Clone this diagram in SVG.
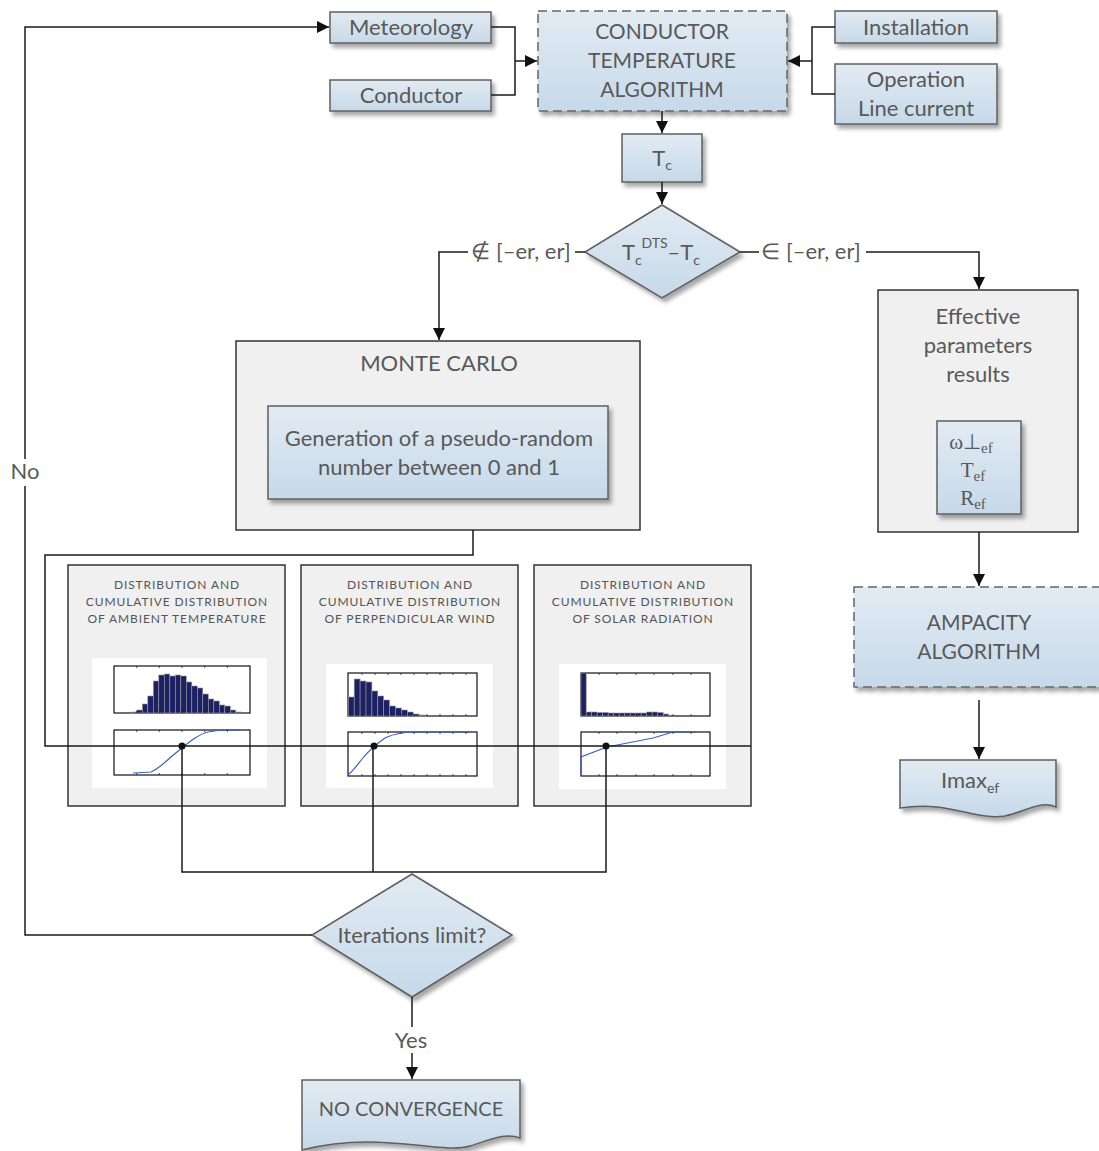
<svg xmlns="http://www.w3.org/2000/svg" width="1099" height="1151" viewBox="0 0 1099 1151">
<defs>
<linearGradient id="blue" x1="0" y1="0" x2="0" y2="1">
<stop offset="0" stop-color="#e2ebf3"/>
<stop offset="1" stop-color="#c6d9e9"/>
</linearGradient>
<filter id="sh" x="-10%" y="-10%" width="130%" height="140%">
<feDropShadow dx="3" dy="4" stdDeviation="2" flood-color="#000" flood-opacity="0.35"/>
</filter>
<marker id="arr" markerWidth="13" markerHeight="13" refX="12" refY="6.5" orient="auto" markerUnits="userSpaceOnUse">
<path d="M0,0.5 L12,6.5 L0,12.5 Z" fill="#111"/>
</marker>
<style>
.box{fill:url(#blue);stroke:#5f5f5f;stroke-width:1.5;filter:url(#sh)}
.dash{fill:url(#blue);stroke:#666;stroke-width:1.5;stroke-dasharray:9,5;filter:url(#sh)}
.panel{fill:#f0f0f0;stroke:#333;stroke-width:1.5}
.t{font-family:Lato,"Open Sans",sans-serif;font-size:22px;fill:#595959;text-anchor:middle}
.u{font-family:Lato,"Open Sans",sans-serif;font-size:21px;fill:#595959;text-anchor:middle}
.s{font-family:Lato,"Open Sans",sans-serif;font-size:12px;fill:#555;text-anchor:middle;letter-spacing:0.9px}
.serif{font-family:"Liberation Serif",serif;font-size:21px;fill:#595959;text-anchor:middle}
.con{fill:none;stroke:#1a1a1a;stroke-width:1.5}
.ax{fill:#fff;stroke:#111;stroke-width:1.2}
.bar{fill:#1b2163;stroke:#9a9a9a;stroke-width:0.6}
.cdf{fill:none;stroke:#3a62c4;stroke-width:1.2}
.tk{stroke:#111;stroke-width:0.7}
</style>
</defs>

<g id="meteorology">
<rect class="box" x="330" y="12" width="161" height="31"/>
<text class="t" x="411" y="35">Meteorology</text>
</g>
<g id="conductor">
<rect class="box" x="330" y="80" width="161" height="31"/>
<text class="t" x="411" y="103">Conductor</text>
</g>
<g id="conductor-temperature-algorithm">
<rect class="dash" x="538" y="11" width="249" height="100"/>
<text class="u" x="662" y="39">CONDUCTOR</text>
<text class="u" x="662" y="68">TEMPERATURE</text>
<text class="u" x="662" y="97">ALGORITHM</text>
</g>
<g id="installation">
<rect class="box" x="835" y="11" width="162" height="32"/>
<text class="t" x="916" y="35">Installation</text>
</g>
<g id="operation">
<rect class="box" x="835" y="64" width="162" height="60"/>
<text class="t" x="916" y="87">Operation</text>
<text class="t" x="916" y="116">Line current</text>
</g>
<g id="tc">
<rect class="box" x="622" y="134" width="80" height="48"/>
<text class="t" x="662" y="166">T<tspan font-size="14" dy="4">c</tspan></text>
</g>
<g id="decision-tc">
<path class="box" d="M662,205 L740,252 L662,298 L585,252 Z"/>
<text class="t" x="661" y="260">T<tspan font-size="14" dy="5">c</tspan><tspan font-size="14" dy="-17">DTS</tspan><tspan dy="12">–T</tspan><tspan font-size="14" dy="5">c</tspan></text>
</g>

<g id="monte-carlo">
<rect class="panel" x="236" y="341" width="404" height="189"/>
<text class="t" x="439" y="371">MONTE CARLO</text>
<rect class="box" x="268" y="406" width="340" height="93"/>
<text class="t" x="439" y="446">Generation of a pseudo-random</text>
<text class="t" x="439" y="475">number between 0 and 1</text>
</g>

<g id="effective-parameters">
<rect class="panel" x="878" y="290" width="200" height="242"/>
<text class="t" x="978" y="324">Effective</text>
<text class="t" x="978" y="353">parameters</text>
<text class="t" x="978" y="382">results</text>
<rect class="box" x="937" y="421" width="84" height="93"/>
<text class="serif" x="971" y="449">ω⊥<tspan font-size="15" dy="4">ef</tspan></text>
<text class="serif" x="973" y="477">T<tspan font-size="15" dy="4">ef</tspan></text>
<text class="serif" x="973" y="505">R<tspan font-size="15" dy="4">ef</tspan></text>
</g>

<g id="ampacity-algorithm">
<rect class="dash" x="854" y="587" width="260" height="100"/>
<text class="u" x="979" y="630">AMPACITY</text>
<text class="u" x="979" y="659">ALGORITHM</text>
</g>

<g id="imax">
<path class="box" d="M900,760 H1056 V807 C1040,800 1025,812 1005,816 C975,821 950,800 900,808 Z"/>
<text class="t" x="970" y="788">Imax<tspan font-size="14" dy="5">ef</tspan></text>
</g>

<g id="dist-ambient-temperature">
<rect class="panel" x="68" y="565" width="217" height="241"/>
<text class="s" x="177" y="589">DISTRIBUTION AND</text>
<text class="s" x="177" y="606">CUMULATIVE DISTRIBUTION</text>
<text class="s" x="177" y="623">OF AMBIENT TEMPERATURE</text>
<rect x="92" y="658" width="175" height="130" fill="#fff"/>
<rect class="ax" x="114" y="666" width="136" height="47"/>
<g class="bar">
<rect x="131.3" y="712" width="5.5" height="1"/>
<rect x="136.8" y="710" width="5.5" height="3"/>
<rect x="142.3" y="704" width="5.5" height="9"/>
<rect x="147.8" y="696" width="5.5" height="17"/>
<rect x="153.3" y="681" width="5.5" height="32"/>
<rect x="158.8" y="675" width="5.5" height="38"/>
<rect x="164.3" y="674" width="5.5" height="39"/>
<rect x="169.8" y="676" width="5.5" height="37"/>
<rect x="175.3" y="675" width="5.5" height="38"/>
<rect x="180.8" y="676" width="5.5" height="37"/>
<rect x="186.3" y="682" width="5.5" height="31"/>
<rect x="191.8" y="686" width="5.5" height="27"/>
<rect x="197.3" y="688" width="5.5" height="25"/>
<rect x="202.8" y="694" width="5.5" height="19"/>
<rect x="208.3" y="699" width="5.5" height="14"/>
<rect x="213.8" y="701" width="5.5" height="12"/>
<rect x="219.3" y="705" width="5.5" height="8"/>
<rect x="224.8" y="706" width="5.5" height="7"/>
<rect x="230.3" y="710" width="5.5" height="3"/>
<rect x="235.8" y="712" width="5.5" height="1"/>
</g>
<path class="tk" d="M136.7,666v2M159.3,666v2M182,666v2M204.7,666v2M227.3,666v2M136.7,713v-2M159.3,713v-2M182,713v-2M204.7,713v-2M227.3,713v-2"/>
<rect class="ax" x="114" y="730" width="136" height="45"/>
<path class="cdf" d="M133,773 L151,772 C156,770 160,767 171,757 L183,747 C188,743 192,740 195,738 C200,735 204,733 208,732 C215,731 220,730 228,730 L241,730"/>
<path class="tk" d="M136.7,730v2M159.3,730v2M182,730v2M204.7,730v2M227.3,730v2M136.7,775v-2M159.3,775v-2M182,775v-2M204.7,775v-2M227.3,775v-2"/>
</g>

<g id="dist-perpendicular-wind">
<rect class="panel" x="301" y="565" width="217" height="241"/>
<text class="s" x="410" y="589">DISTRIBUTION AND</text>
<text class="s" x="410" y="606">CUMULATIVE DISTRIBUTION</text>
<text class="s" x="410" y="623">OF PERPENDICULAR WIND</text>
<rect x="326" y="664" width="167" height="124" fill="#fff"/>
<rect class="ax" x="348" y="673" width="129" height="43"/>
<g class="bar">
<rect x="348.3" y="697" width="5.9" height="19"/>
<rect x="354.2" y="679" width="5.9" height="37"/>
<rect x="360.1" y="681" width="5.9" height="35"/>
<rect x="366" y="682" width="5.9" height="34"/>
<rect x="371.9" y="691" width="5.9" height="25"/>
<rect x="377.8" y="696" width="5.9" height="20"/>
<rect x="383.7" y="700" width="5.9" height="16"/>
<rect x="389.6" y="706" width="5.9" height="10"/>
<rect x="395.5" y="708" width="5.9" height="8"/>
<rect x="401.4" y="710" width="5.9" height="6"/>
<rect x="407.3" y="712" width="5.9" height="4"/>
<rect x="413.2" y="714" width="5.9" height="2"/>
<rect x="419.1" y="715" width="5.9" height="1"/>
</g>
<path class="tk" d="M362,673v2M375,673v2M388,673v2M401,673v2M414,673v2M427,673v2M440,673v2M453,673v2M466,673v2M362,716v-2M375,716v-2M388,716v-2M401,716v-2M414,716v-2M427,716v-2M440,716v-2M453,716v-2M466,716v-2"/>
<rect class="ax" x="348" y="732" width="129" height="44"/>
<path class="cdf" d="M348,775 C354,770 358,764 362,759 C367,753 371,749 374,747 C378,743 382,740 385,738 C391,735 396,734 402,733 C410,732 415,732 422,732 L470,732"/>
<path class="tk" d="M362,732v2M375,732v2M388,732v2M401,732v2M414,732v2M427,732v2M440,732v2M453,732v2M466,732v2M362,776v-2M375,776v-2M388,776v-2M401,776v-2M414,776v-2M427,776v-2M440,776v-2M453,776v-2M466,776v-2"/>
</g>

<g id="dist-solar-radiation">
<rect class="panel" x="534" y="565" width="217" height="241"/>
<text class="s" x="643" y="589">DISTRIBUTION AND</text>
<text class="s" x="643" y="606">CUMULATIVE DISTRIBUTION</text>
<text class="s" x="643" y="623">OF SOLAR RADIATION</text>
<rect x="559" y="664" width="167" height="125" fill="#fff"/>
<rect class="ax" x="581" y="673" width="129" height="43"/>
<g class="bar">
<rect x="581" y="673" width="5.2" height="43"/>
<rect x="586.2" y="712" width="5.5" height="4"/>
<rect x="591.7" y="712" width="5.5" height="4"/>
<rect x="597.2" y="712.5" width="5.5" height="3.5"/>
<rect x="602.7" y="712.5" width="5.5" height="3.5"/>
<rect x="608.2" y="713" width="5.5" height="3"/>
<rect x="613.7" y="713" width="5.5" height="3"/>
<rect x="619.2" y="713" width="5.5" height="3"/>
<rect x="624.7" y="713" width="5.5" height="3"/>
<rect x="630.2" y="713" width="5.5" height="3"/>
<rect x="635.7" y="713" width="5.5" height="3"/>
<rect x="641.2" y="713" width="5.5" height="3"/>
<rect x="646.7" y="712" width="5.5" height="4"/>
<rect x="652.2" y="712" width="5.5" height="4"/>
<rect x="657.7" y="712.5" width="5.5" height="3.5"/>
<rect x="663.2" y="714" width="5.5" height="2"/>
</g>
<path class="tk" d="M599,673v2M617,673v2M636,673v2M654,673v2M673,673v2M691,673v2M599,716v-2M617,716v-2M636,716v-2M654,716v-2M673,716v-2M691,716v-2"/>
<rect class="ax" x="581" y="732" width="129" height="44"/>
<path class="cdf" d="M581,776 V757 L607,747 L653,738 L673,732 L696,732"/>
<path class="tk" d="M599,732v2M617,732v2M636,732v2M654,732v2M673,732v2M691,732v2M599,776v-2M617,776v-2M636,776v-2M654,776v-2M673,776v-2M691,776v-2"/>
</g>

<g id="decision-iterations">
<path class="box" d="M412,874 L512,935 L412,997 L312,935 Z"/>
<text class="t" x="412" y="943">Iterations limit?</text>
</g>

<g id="no-convergence">
<path class="box" d="M302,1080 H520 V1138 C505,1132 490,1140 470,1146 C440,1155 380,1130 302,1150 Z"/>
<text class="u" x="411" y="1116" style="font-size:20px">NO CONVERGENCE</text>
</g>

<g id="connectors">
<path class="con" d="M491,27 H515 V95 H491"/>
<path class="con" d="M515,61 H537" marker-end="url(#arr)"/>
<path class="con" d="M835,27 H812 V94 H835"/>
<path class="con" d="M812,61 H788" marker-end="url(#arr)"/>
<path class="con" d="M662,111 V133" marker-end="url(#arr)"/>
<path class="con" d="M662,182 V204" marker-end="url(#arr)"/>
<path class="con" d="M585,252 H575"/>
<text class="t" x="521" y="259">∉ [–er, er]</text>
<path class="con" d="M468,252 H439 V340" marker-end="url(#arr)"/>
<path class="con" d="M740,252 H759"/>
<text class="t" x="811" y="259">∈ [–er, er]</text>
<path class="con" d="M866,252 H979 V289" marker-end="url(#arr)"/>
<path class="con" d="M979,532 V586" marker-end="url(#arr)"/>
<path class="con" d="M979,700 V759" marker-end="url(#arr)"/>
<path class="con" d="M473,530 V555 H45 V746 H751"/>
<path class="con" d="M182,746 V872 H606 V746"/>
<path class="con" d="M373,746 V872"/>
<circle cx="182" cy="746" r="3.5" fill="#111"/>
<circle cx="374" cy="746" r="3.5" fill="#111"/>
<circle cx="606" cy="746" r="3.5" fill="#111"/>
<path class="con" d="M312,935 H25 V486"/>
<text class="t" x="25" y="479">No</text>
<path class="con" d="M25,459 V27 H329" marker-end="url(#arr)"/>
<path class="con" d="M412,997 V1027"/>
<text class="t" x="411" y="1048">Yes</text>
<path class="con" d="M412,1053 V1079" marker-end="url(#arr)"/>
</g>
</svg>
